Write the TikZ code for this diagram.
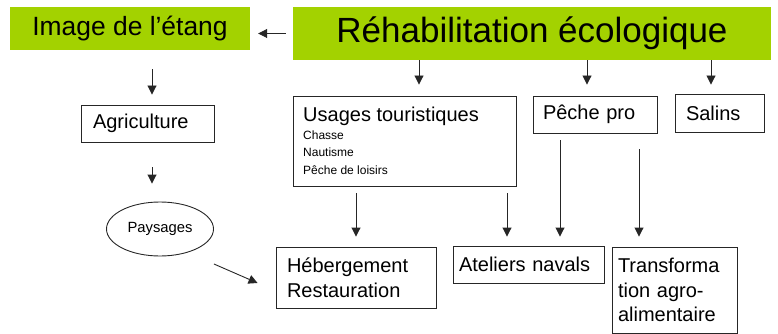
\documentclass[tikz,border=0pt]{standalone}
\usepackage{fontspec}
\setmainfont{Liberation Sans}
\usetikzlibrary{shapes.geometric,arrows.meta}
\definecolor{lime}{RGB}{163,210,0}
\tikzset{
  greenbox/.style={fill=lime,draw=none,inner sep=0pt,anchor=center},
  box/.style={draw=black!85,line width=0.9pt,align=left,inner ysep=0pt,anchor=center,font=\fontsize{20}{24.5}\selectfont},
  label/.style={inner sep=0pt,anchor=west,align=left},
  arr/.style={draw=black!85,line width=0.9pt,-{Triangle[length=9pt,width=9pt]}},
}
\begin{document}
\begin{tikzpicture}[x=1pt,y=-1pt]
\useasboundingbox (0,0) rectangle (778,334);
\node[greenbox,minimum width=240pt,minimum height=43pt,font=\fontsize{26.4}{30}\selectfont] (img) at (130,28.5) {Image de l’étang};
\node[greenbox,minimum width=478pt,minimum height=53pt,font=\fontsize{35}{40}\selectfont] (reh) at (532,33.5) {Réhabilitation écologique};
\node[box,minimum width=223pt,minimum height=90pt] (usg) at (404.5,141) {};
\node[label,font=\fontsize{20}{24}\selectfont] (usgT) at (303,116.5) {Usages touristiques};
\node[label,font=\fontsize{12}{17.5}\selectfont] (usgS) at (303,152.5) {Chasse\\Nautisme\\Pêche de loisirs};
\node[box,inner xsep=10pt,text width=104pt,minimum height=37pt] (peche) at (595,114.5) {Pêche pro};
\node[box,inner xsep=11pt,text width=67pt,minimum height=38pt] (salins) at (719.5,113) {Salins};
\node[box,inner xsep=12pt,text width=109pt,minimum height=37pt] (agri) at (147.5,123.5) {Agriculture};
\node[draw=black!85,line width=0.9pt,ellipse,minimum width=107pt,minimum height=54pt,inner sep=0pt,font=\fontsize{14.8}{17}\selectfont] (pays) at (160,229) {Paysages};
\node[box,inner xsep=11pt,text width=138pt,minimum height=61pt] (heb) at (356,277.5) {Hébergement\\Restauration};
\node[box,inner xsep=6pt,text width=139pt,minimum height=37pt] (atel) at (528.5,264.5) {Ateliers navals};
\node[box,inner xsep=6pt,text width=113pt,minimum height=86pt] (trans) at (674.5,290) {Transforma\\tion agro-\\alimentaire};
% connector reference points
\coordinate (aN) at ([xshift=4.5pt]agri.north);
\coordinate (aS) at ([xshift=4.5pt]agri.south);
\coordinate (tU) at ([xshift=-113pt]reh.south);
\coordinate (tP) at ([xshift=55pt]reh.south);
\coordinate (tS) at ([xshift=179pt]reh.south);
\coordinate (at1) at ([xshift=-21.5pt]atel.north);
\coordinate (at2) at ([xshift=31.5pt]atel.north);
\coordinate (tr1) at ([xshift=-35.5pt]trans.north);
% connectors
\draw[arr,shorten <=7pt,shorten >=8pt] (reh.west) -- (img.east |- reh.west);
\draw[arr,shorten <=19pt,shorten >=10pt] (img.south -| aN) -- (aN);
\draw[arr,shorten <=25pt,shorten >=18pt] (aS) -- (pays.north -| aS);
\draw[arr] ([yshift=-35pt]pays.east) -- ([xshift=-18pt,yshift=-5.5pt]heb.west);
\draw[arr,shorten <=7pt,shorten >=10pt] (heb.north |- usg.south) -- (heb.north);
\draw[arr,shorten <=7pt,shorten >=9pt] (at1 |- usg.south) -- (at1);
\draw[arr,shorten <=7pt,shorten >=9pt] (at2 |- peche.south) -- (at2);
\draw[arr,shorten <=16pt,shorten >=10pt] (tr1 |- peche.south) -- (tr1);
\draw[arr,shorten >=11pt] (tU) -- (usg.north -| tU);
\draw[arr,shorten >=11pt] (tP) -- (peche.north -| tP);
\draw[arr,shorten >=9pt] (tS) -- (salins.north -| tS);
\end{tikzpicture}
\end{document}
